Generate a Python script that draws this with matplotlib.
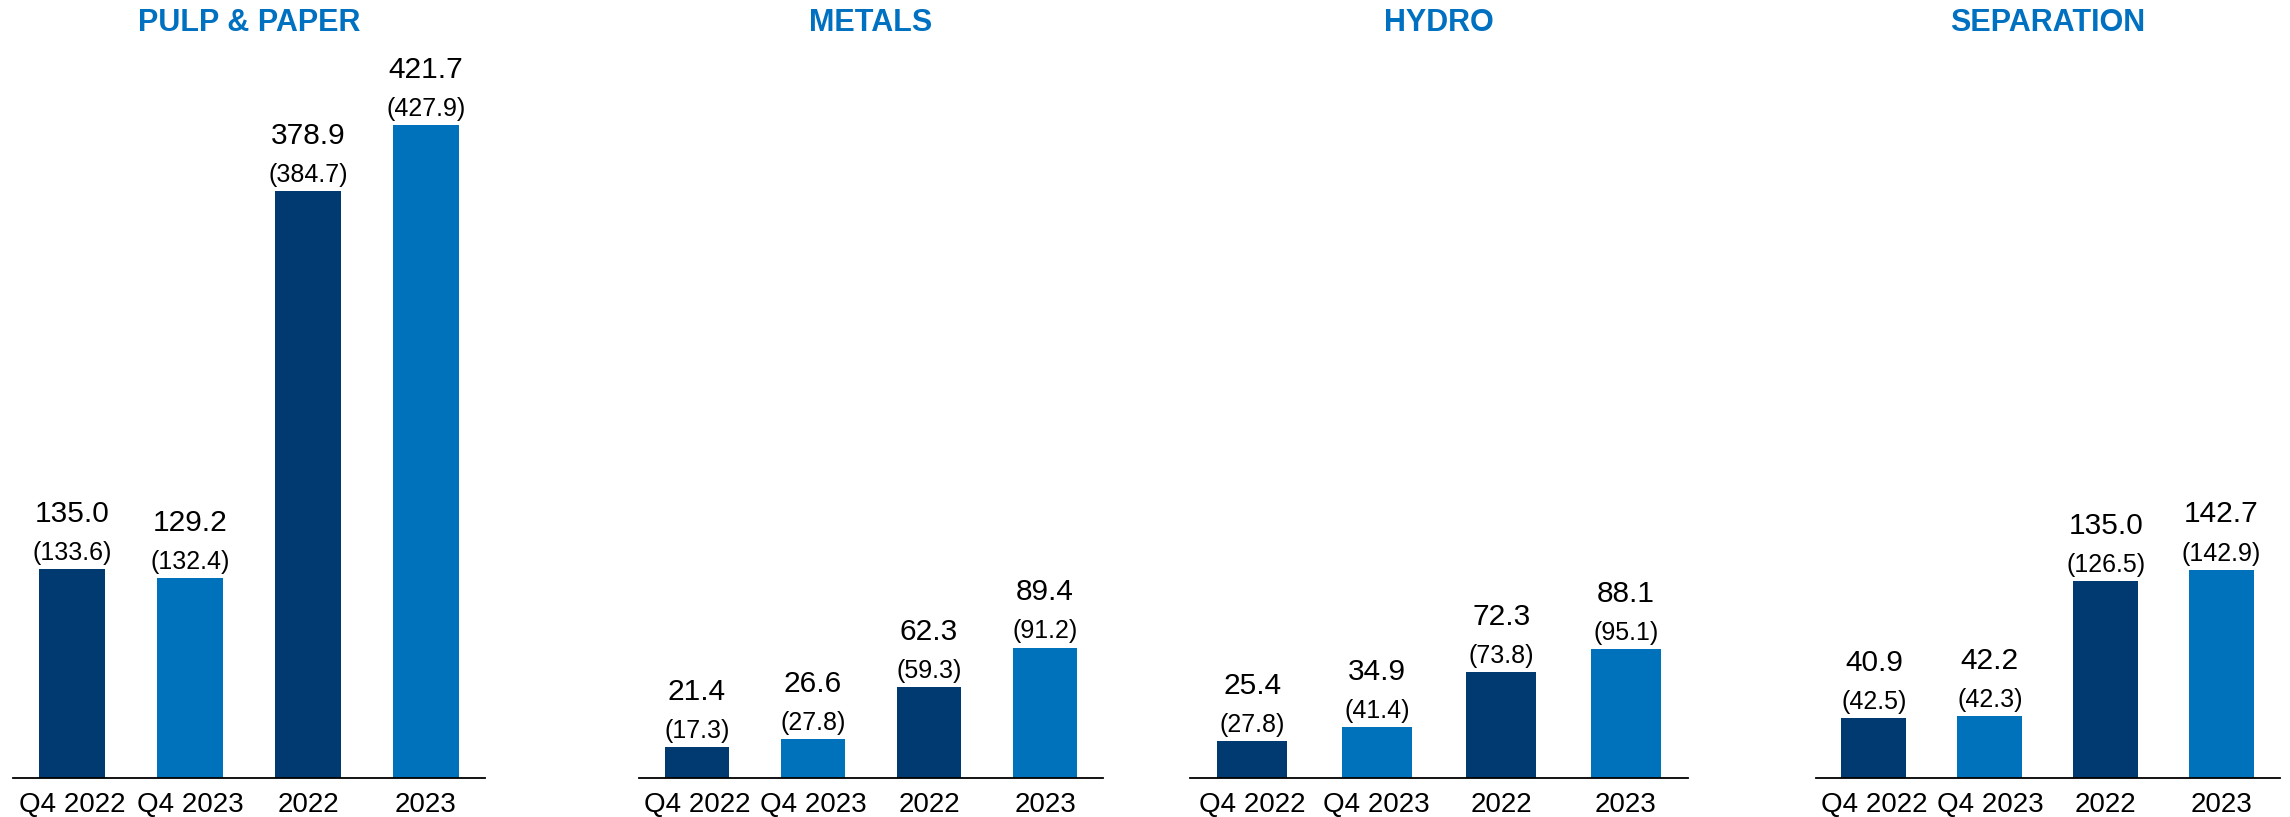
import matplotlib
matplotlib.use("Agg")
import matplotlib.pyplot as plt

plt.rcParams["font.family"] = ["Liberation Sans", "DejaVu Sans"]

periods = ["Q4 2022", "Q4 2023", "2022", "2023"]
segments = ["PULP & PAPER", "METALS", "HYDRO", "SEPARATION"]

pulp_paper = [135.0, 129.2, 378.9, 421.7]
pulp_paper_prev = [133.6, 132.4, 384.7, 427.9]
metals = [21.4, 26.6, 62.3, 89.4]
metals_prev = [17.3, 27.8, 59.3, 91.2]
hydro = [25.4, 34.9, 72.3, 88.1]
hydro_prev = [27.8, 41.4, 73.8, 95.1]
separation = [40.9, 42.2, 135.0, 142.7]
separation_prev = [42.5, 42.3, 126.5, 142.9]

values = [pulp_paper, metals, hydro, separation]
prev_values = [pulp_paper_prev, metals_prev, hydro_prev, separation_prev]

DARK = "#003A70"
LIGHT = "#0072BC"
TITLE = "#0070C0"
bar_colors = [DARK, LIGHT, DARK, LIGHT]

W, H = 2290, 817
fig = plt.figure(figsize=(W / 100, H / 100), dpi=100)

# panel extents in pixels (left, width) and top of y range
panels = [(13, 472, 502.6), (639, 464, 533), (1190, 498, 533), (1816, 463.5, 533)]
axis_y = 778

for (left, width, ymax), name, vals, prev in zip(panels, segments, values, prev_values):
    ax = fig.add_axes([left / W, 1 - axis_y / H, width / W, axis_y / H])
    x = range(len(periods))
    bars = ax.bar(x, vals, width=0.56, color=bar_colors)
    ax.set_xlim(-0.5, 3.5)
    ax.set_ylim(0, ymax)
    ax.set_yticks([])
    for side in ["left", "right", "top"]:
        ax.spines[side].set_visible(False)
    ax.spines["bottom"].set_linewidth(1.3)
    ax.spines["bottom"].set_color("black")
    ax.set_xticks(list(x))
    ax.set_xticklabels(periods, fontsize=20)
    ax.tick_params(axis="x", length=0, pad=10)
    ax.patch.set_visible(False)

    for b, v, p in zip(bars, vals, prev):
        cx = b.get_x() + b.get_width() / 2
        ax.annotate(f"{v:.1f}", (cx, v), xytext=(0, 34), textcoords="offset points",
                    ha="center", va="baseline", fontsize=21.5)
        ax.annotate(f"({p:.1f})", (cx, v), xytext=(0, 6.5), textcoords="offset points",
                    ha="center", va="baseline", fontsize=18)

    fig.text((left + width / 2) / W, 1 - 23 / H, name, ha="center", va="center",
             fontsize=22, fontweight="bold", color=TITLE)

fig.savefig("out.png", dpi=100)
